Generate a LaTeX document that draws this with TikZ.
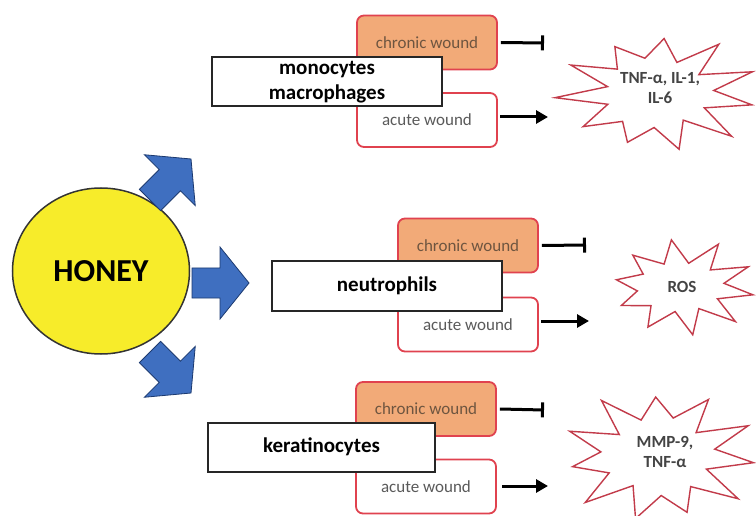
\documentclass[tikz,border=0pt]{standalone}
\usepackage{fontspec}
\setmainfont{Carlito}
\usetikzlibrary{arrows.meta,shapes.geometric}
\definecolor{woundred}{HTML}{E0424F}
\definecolor{chronfill}{HTML}{F2AA78}
\definecolor{chrontext}{HTML}{6E5540}
\definecolor{acutetext}{HTML}{5A5A5A}
\definecolor{arrowblue}{HTML}{3F6FC0}
\definecolor{arrowedge}{HTML}{1C3A70}
\definecolor{honeyyellow}{HTML}{F7EC2A}
\definecolor{starred}{HTML}{C23B4A}
\definecolor{startext}{HTML}{444444}
\begin{document}
\begin{tikzpicture}[x=1pt,y=-1pt,
  wound/.style={draw=woundred, line width=1.8pt, rounded corners=7pt,
     minimum width=140pt, minimum height=54pt, inner sep=0pt,
     font=\fontsize{17}{20}\selectfont},
  chronic/.style={wound, fill=chronfill, text=chrontext},
  acute/.style={wound, fill=white, text=acutetext},
  cellbox/.style={draw=black!85, line width=2pt, fill=white, inner sep=0pt,
     minimum width=230pt, minimum height=49pt, align=center,
     font=\fontsize{21}{25}\selectfont\bfseries},
  inhib/.style={line width=3pt, -{Bar[width=15pt,line width=3pt]}},
  act/.style={line width=3pt, -{Triangle[length=12pt,width=13pt]}},
  starline/.style={draw=starred, line width=1.4pt, fill=white, line join=miter},
  startxt/.style={text=startext, align=center, font=\fontsize{17}{20}\selectfont\bfseries},
  bluearrow/.style={fill=arrowblue, draw=arrowedge, line width=0.8pt, line join=miter}
]
\useasboundingbox (0,0) rectangle (756,516);

% HONEY
\node[draw=black!80, line width=1.5pt, fill=honeyyellow, ellipse, minimum width=177pt, minimum height=166pt, inner sep=0pt] (honey) at (101,271) {};
\node[font=\fontsize{32}{36}\selectfont\bfseries] (honeytxt) at (101,271) {HONEY};

% blue block arrows
\begin{scope}[shift={(150,200)}, rotate=45]
  \draw[bluearrow] (0,-15) -- (28,-15) -- (28,-36) -- (58,0) -- (28,36) -- (28,15) -- (0,15) -- cycle;
\end{scope}
\begin{scope}[shift={(192,283)}]
  \draw[bluearrow] (0,-15) -- (28,-15) -- (28,-36) -- (57,0) -- (28,36) -- (28,15) -- (0,15) -- cycle;
\end{scope}
\begin{scope}[shift={(150,352)}, rotate=-45]
  \draw[bluearrow] (0,-15) -- (28,-15) -- (28,-36) -- (58,0) -- (28,36) -- (28,15) -- (0,15) -- cycle;
\end{scope}

% monocytes group
\node[chronic] (cM) at (427,42.5) {chronic wound};
\node[acute] (aM) at (427,120) {acute wound};
\node[cellbox] (mM) at (327,82) {monocytes\\macrophages};
\coordinate (tM) at (544,43);
\coordinate (eM) at (548,117);
\draw[inhib] ([xshift=3pt]cM.east) -- (tM);
\draw[act] (500,117) -- (eM);

% neutrophils group
\node[chronic] (cN) at (468,245.5) {chronic wound};
\node[acute] (aN) at (468,324.5) {acute wound};
\node[cellbox] (mN) at (387,286) {neutrophils};
\coordinate (tN) at (586,245);
\coordinate (eN) at (589,321);
\draw[inhib] ([xshift=3pt]cN.east) -- (tN);
\draw[act] (541,321) -- (eN);

% keratinocytes group
\node[chronic] (cK) at (426,409) {chronic wound};
\node[acute] (aK) at (426,486.5) {acute wound};
\node[cellbox, minimum width=227pt] (mK) at (321.5,447) {keratinocytes};
\coordinate (tK) at (544,410);
\coordinate (eK) at (548,486);
\draw[inhib] ([xshift=3pt]cK.east) -- (tK);
\draw[act] (502,486) -- (eK);

% starbursts
\draw[starline, shift={(658,93)}] plot[samples at={0,...,21}, variable=\k]
  ({96*(1-0.42*mod(\k,2))*(1-0.08*sin(\k*137))*cos(\k*360/22+12)},
   {57*(1-0.42*mod(\k,2))*(1-0.08*sin(\k*137))*sin(\k*360/22+12)}) -- cycle;
\node[startxt] (sM) at (660,88) {TNF-α, IL-1,\\IL-6};

\draw[starline, shift={(682,287)}] plot[samples at={0,...,19}, variable=\k]
  ({72*(1-0.42*mod(\k,2))*(1-0.08*sin(\k*151))*cos(\k*360/20+10)},
   {45*(1-0.42*mod(\k,2))*(1-0.08*sin(\k*151))*sin(\k*360/20+10)}) -- cycle;
\node[startxt] (sN) at (682,287) {ROS};

\draw[starline, shift={(659,456)}] plot[samples at={0,...,21}, variable=\k]
  ({95*(1-0.42*mod(\k,2))*(1-0.08*sin(\k*119))*cos(\k*360/22+6)},
   {64*(1-0.42*mod(\k,2))*(1-0.08*sin(\k*119))*sin(\k*360/22+6)}) -- cycle;
\node[startxt] (sK) at (665,452) {MMP-9,\\TNF-α};
\end{tikzpicture}
\end{document}
